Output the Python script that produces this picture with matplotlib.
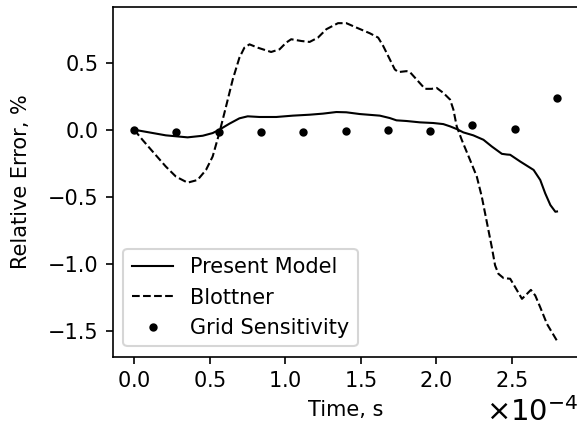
import numpy as np
import matplotlib
matplotlib.use("Agg")
import matplotlib.pyplot as plt

# Present Model (time in units of 1e-4 s, relative error %)
pm_t = [0.0, 0.1, 0.21, 0.354, 0.454, 0.52, 0.564, 0.631, 0.697, 0.752, 0.83, 0.941, 1.051, 1.162,
        1.25, 1.339, 1.405, 1.494, 1.627, 1.693, 1.737, 1.804, 1.892, 1.981, 2.047, 2.092, 2.136,
        2.18, 2.246, 2.313, 2.368, 2.435, 2.468, 2.49, 2.556, 2.645, 2.689, 2.722, 2.756, 2.789, 2.8]
pm_y = [0.0, -0.02, -0.042, -0.057, -0.045, -0.025, 0.0, 0.045, 0.085, 0.1, 0.095, 0.095, 0.105, 0.112,
        0.12, 0.132, 0.13, 0.117, 0.105, 0.087, 0.07, 0.065, 0.055, 0.05, 0.042, 0.025, 0.005,
        -0.02, -0.042, -0.075, -0.125, -0.18, -0.185, -0.187, -0.237, -0.3, -0.375, -0.475, -0.562, -0.612, -0.61]

# Blottner
bl_t = [0.0, 0.055, 0.122, 0.21, 0.277, 0.354, 0.42, 0.476, 0.52, 0.564, 0.609, 0.653, 0.697, 0.73,
        0.764, 0.819, 0.907, 0.963, 1.007, 1.04, 1.107, 1.162, 1.217, 1.273, 1.35, 1.405, 1.472,
        1.56, 1.616, 1.649, 1.693, 1.726, 1.749, 1.804, 1.826, 1.87, 1.926, 1.97, 2.003, 2.047,
        2.092, 2.114, 2.136, 2.169, 2.224, 2.269, 2.302, 2.324, 2.346, 2.368, 2.39, 2.412, 2.446,
        2.49, 2.523, 2.568, 2.601, 2.627, 2.656, 2.689, 2.734, 2.8]
bl_y = [0.0, -0.075, -0.162, -0.275, -0.35, -0.395, -0.375, -0.3, -0.2, -0.025, 0.175, 0.375, 0.537, 0.612,
        0.637, 0.612, 0.58, 0.6, 0.65, 0.675, 0.662, 0.655, 0.687, 0.75, 0.795, 0.795, 0.762,
        0.72, 0.687, 0.625, 0.525, 0.45, 0.43, 0.437, 0.43, 0.375, 0.305, 0.305, 0.312, 0.275,
        0.225, 0.15, 0.025, -0.075, -0.225, -0.35, -0.5, -0.625, -0.75, -0.875, -1.012, -1.075, -1.107,
        -1.112, -1.175, -1.262, -1.225, -1.195, -1.237, -1.325, -1.45, -1.575]

# Grid Sensitivity
gs_t = [0.0, 0.28, 0.56, 0.84, 1.12, 1.40, 1.68, 1.96, 2.24, 2.52, 2.80]
gs_y = [0.0, -0.015, -0.017, -0.017, -0.017, -0.012, -0.005, -0.007, 0.035, 0.003, 0.237]

scale = 1e-4

fig = plt.figure(figsize=(577 / 150, 431 / 150), dpi=150)
ax = fig.add_axes([0.1958, 0.1724, 0.8062, 0.8107])

ax.plot(np.array(pm_t) * scale, pm_y, 'k-', lw=1.0, label='Present Model')
ax.plot(np.array(bl_t) * scale, bl_y, 'k--', lw=1.0, label='Blottner')
ax.plot(np.array(gs_t) * scale, gs_y, 'k.', ls='none', label='Grid Sensitivity')

ax.set_yticks([-1.5, -1.0, -0.5, 0.0, 0.5])
ax.ticklabel_format(style='sci', axis='x', scilimits=(0, 0), useMathText=True)
ax.xaxis.get_offset_text().set_fontsize(14)
ax.set_xlabel('Time, s')
ax.set_ylabel('Relative Error, %', labelpad=8)
ax.legend(loc='lower left')

fig.savefig('out.png', dpi=150)
